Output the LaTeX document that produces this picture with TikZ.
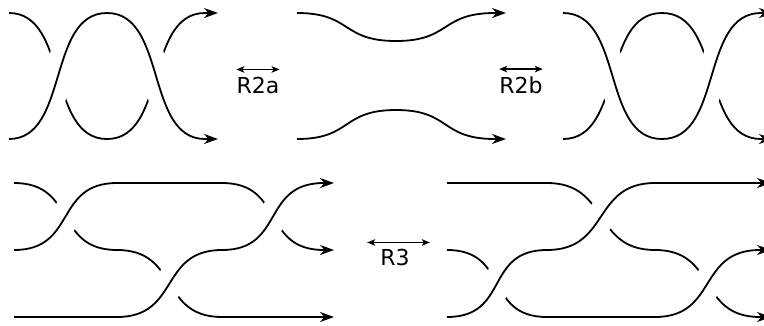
\documentclass[tikz,border=0pt]{standalone}
\usepackage{fontspec}
\newfontfamily\labelfont{DejaVu Sans}
\usetikzlibrary{arrows.meta}

\begin{document}
\begin{tikzpicture}[x=1pt,y=-1pt,
  strand/.style={line width=1.8pt},
  over/.style={strand,preaction={draw,white,line width=29pt,-}},
  arrowend/.style={-{Stealth[length=14pt,width=10pt,inset=4.5pt]}},
  lbl/.style={font=\labelfont\fontsize{22}{26}\selectfont,inner sep=0pt,anchor=base},
  movearrow/.style={line width=1.3pt,{Stealth[length=8pt,width=6.5pt,inset=2pt]}-{Stealth[length=8pt,width=6.5pt,inset=2pt]}}]
\useasboundingbox (0,0) rectangle (764,325);

% R2 left
\draw [strand,arrowend] (9,13) .. controls +(60,0) and +(-60,0) .. (107,139) .. controls +(60,0) and +(-60,0) .. (205,13) -- (218,13);
\draw [over,arrowend] (9,139) .. controls +(60,0) and +(-60,0) .. (107,13) .. controls +(60,0) and +(-60,0) .. (205,139) -- (218,139);

% R2 middle
\draw [strand,arrowend] (297,13) .. controls +(55,0) and +(-55,0) .. (396,41) .. controls +(55,0) and +(-55,0) .. (495,13) -- (506,13);
\draw [strand,arrowend] (297,139) .. controls +(55,0) and +(-55,0) .. (396,110) .. controls +(55,0) and +(-55,0) .. (495,139) -- (506,139);

% R2 right
\draw [strand,arrowend] (563,139) .. controls +(61,0) and +(-61,0) .. (662,13) .. controls +(61,0) and +(-61,0) .. (761,139) -- (773,139);
\draw [over,arrowend] (563,13) .. controls +(61,0) and +(-61,0) .. (662,139) .. controls +(61,0) and +(-61,0) .. (761,13) -- (773,13);

% R3 left
\draw [strand,arrowend] (14,183) .. controls +(63,0) and +(-63,0) .. (117,250) .. controls +(63,0) and +(-63,0) .. (222,317) -- (334,317);
\draw [over,arrowend] (14,250) .. controls +(63,0) and +(-63,0) .. (117,183) -- (222,183) .. controls +(63,0) and +(-63,0) .. (324,250) -- (334,250);
\draw [over,arrowend] (14,317) -- (117,317) .. controls +(63,0) and +(-63,0) .. (222,250) .. controls +(63,0) and +(-63,0) .. (324,183) -- (334,183);

% R3 right
\draw [strand,arrowend] (447,183) -- (547,183) .. controls +(63,0) and +(-63,0) .. (655,250) .. controls +(63,0) and +(-63,0) .. (760,317) -- (771,317);
\draw [over,arrowend] (447,250) .. controls +(63,0) and +(-63,0) .. (547,317) -- (655,317) .. controls +(63,0) and +(-63,0) .. (760,250) -- (771,250);
\draw [over,arrowend] (447,317) .. controls +(63,0) and +(-63,0) .. (547,250) .. controls +(63,0) and +(-63,0) .. (655,183) -- (771,183);

% moves
\node [lbl] (r2a) at (258,93) {R2a};
\node [lbl] (r2b) at (521,93) {R2b};
\node [lbl] (r3) at (395,265) {R3};
\draw [movearrow] ([yshift=7pt]r2a.north west) -- ([yshift=7pt]r2a.north east);
\draw [movearrow] ([yshift=7pt]r2b.north west) -- ([yshift=7pt]r2b.north east);
\draw [movearrow] ([xshift=-13pt,yshift=6pt]r3.north west) -- ([xshift=20pt,yshift=6pt]r3.north east);
\end{tikzpicture}
\end{document}
